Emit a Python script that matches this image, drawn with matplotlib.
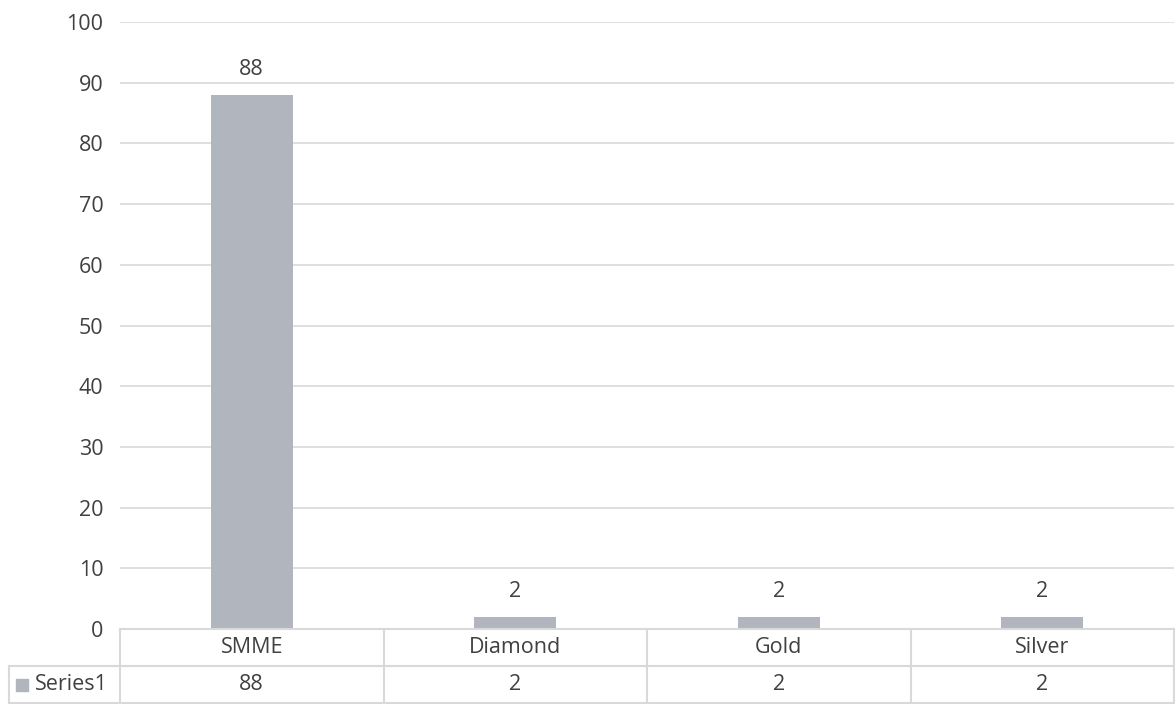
import matplotlib.pyplot as plt

categories = ['SMME', 'Diamond', 'Gold', 'Silver']
values = [88, 2, 2, 2]
series_name = 'Series1'

bar_color = '#b1b5be'
grid_color = '#d9d9d9'
text_color = '#404040'
fs = 15.5

plt.rcParams['font.family'] = ['Open Sans', 'DejaVu Sans']

fig = plt.figure(figsize=(11.75, 7.04), dpi=100)
ax = fig.add_axes([120 / 1175, 1 - 629 / 704, 1054 / 1175, 607 / 704])

x = range(len(categories))
bars = ax.bar(x, values, width=0.31, color=bar_color, zorder=2)
for b, v in zip(bars, values):
    ax.text(b.get_x() + b.get_width() / 2, v + 2.4, str(v), ha='center', va='bottom',
            fontsize=fs, color=text_color)

ax.set_xlim(-0.5, len(categories) - 0.5)
ax.set_ylim(0, 100)
ax.set_yticks(range(0, 101, 10))
ax.yaxis.grid(True, color=grid_color, linewidth=1.2, zorder=0)
ax.tick_params(axis='y', length=0, pad=12, labelsize=fs, labelcolor=text_color)
ax.tick_params(axis='x', length=0, labelbottom=False)
for s in ax.spines.values():
    s.set_visible(False)

# data table under the axis
row_h = 37 / 607
left = -111 / 1054
tr = ax.transAxes
kw = dict(transform=tr, color=grid_color, linewidth=1.5, clip_on=False)
ax.plot([0, 1], [0, 0], **kw)
ax.plot([left, 1], [-row_h, -row_h], **kw)
ax.plot([left, 1], [-2 * row_h, -2 * row_h], **kw)
ax.plot([left, left], [-row_h, -2 * row_h], **kw)
n = len(categories)
for i in range(n + 1):
    ax.plot([i / n, i / n], [0, -2 * row_h], **kw)

for i, (c, v) in enumerate(zip(categories, values)):
    xc = (i + 0.5) / n
    ax.text(xc, -row_h / 2, c, transform=tr, ha='center', va='center',
            fontsize=fs, color=text_color)
    ax.text(xc, -1.5 * row_h, str(v), transform=tr, ha='center', va='center',
            fontsize=fs, color=text_color)

ax.scatter([left + 13 / 1054], [-1.5 * row_h], marker='s', s=75, color=bar_color,
           transform=tr, clip_on=False)
ax.text(left + 26 / 1054, -1.5 * row_h, series_name, transform=tr, ha='left',
        va='center', fontsize=fs, color=text_color)

fig.savefig('out.png', dpi=100)
